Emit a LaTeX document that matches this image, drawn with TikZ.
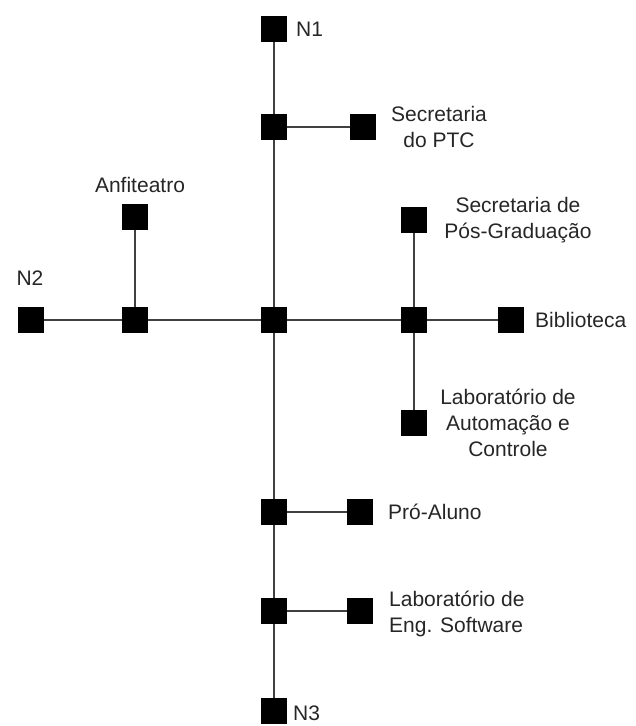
\documentclass[tikz,border=0pt]{standalone}
\usepackage{fontspec}
\setmainfont{Liberation Sans}
\begin{document}
\begin{tikzpicture}[x=1pt,y=-1pt,
  sq/.style={draw=none,fill=black,minimum size=26pt,inner sep=0pt,outer sep=0pt},
  lbl/.style={text=black!85,inner sep=0pt,font=\fontsize{21}{26}\selectfont},
  wire/.style={draw=black!75,line width=1.7pt}]
\useasboundingbox (0,0) rectangle (636,726);
% squares
\node[sq] (n1)  at (274,29)  {};
\node[sq] (p1)  at (274,127) {};
\node[sq] (ptc) at (363,127) {};
\node[sq] (c)   at (274,320) {};
\node[sq] (j2)  at (135,320) {};
\node[sq] (n2)  at (31,320)  {};
\node[sq] (anf) at (135,217) {};
\node[sq] (j3)  at (414,320) {};
\node[sq] (pos) at (414,220) {};
\node[sq] (bib) at (511,320) {};
\node[sq] (lab) at (414,423) {};
\node[sq] (a1)  at (274,512) {};
\node[sq] (alu) at (360,512) {};
\node[sq] (l1)  at (274,611) {};
\node[sq] (eng) at (360,611) {};
\node[sq] (n3)  at (274,711) {};
% connectors
\draw[wire] (n1) -- (p1) -- (c) -- (a1) -- (l1) -- (n3);
\draw[wire] (p1) -- (ptc);
\draw[wire] (c) -- (j2) -- (n2);
\draw[wire] (j2) -- (anf);
\draw[wire] (c) -- (j3) -- (bib);
\draw[wire] (j3) -- (pos);
\draw[wire] (j3) -- (lab);
\draw[wire] (a1) -- (alu);
\draw[wire] (l1) -- (eng);
% labels
\node[lbl,anchor=west] (tn1) at (296,29) {N1};
\node[lbl,align=center] (tptc) at (439,127) {Secretaria\\do PTC};
\node[lbl] (tanf) at (140,185) {Anfiteatro};
\node[lbl] (tn2) at (30,278) {N2};
\node[lbl,align=center] (tpos) at (518,220) {Secretaria de\\Pós-Graduação};
\node[lbl,anchor=west] (tbib) at (535,320) {Biblioteca};
\node[lbl,align=center] (tlab) at (508,423) {Laboratório de\\Automação e\\Controle};
\node[lbl,anchor=west] (talu) at (388,512) {Pró-Aluno};
\node[lbl,align=left,anchor=west] (teng) at (389,614) {Laboratório de\\Eng. Software};
\node[lbl,anchor=west] (tn3) at (293,713) {N3};
\end{tikzpicture}
\end{document}
